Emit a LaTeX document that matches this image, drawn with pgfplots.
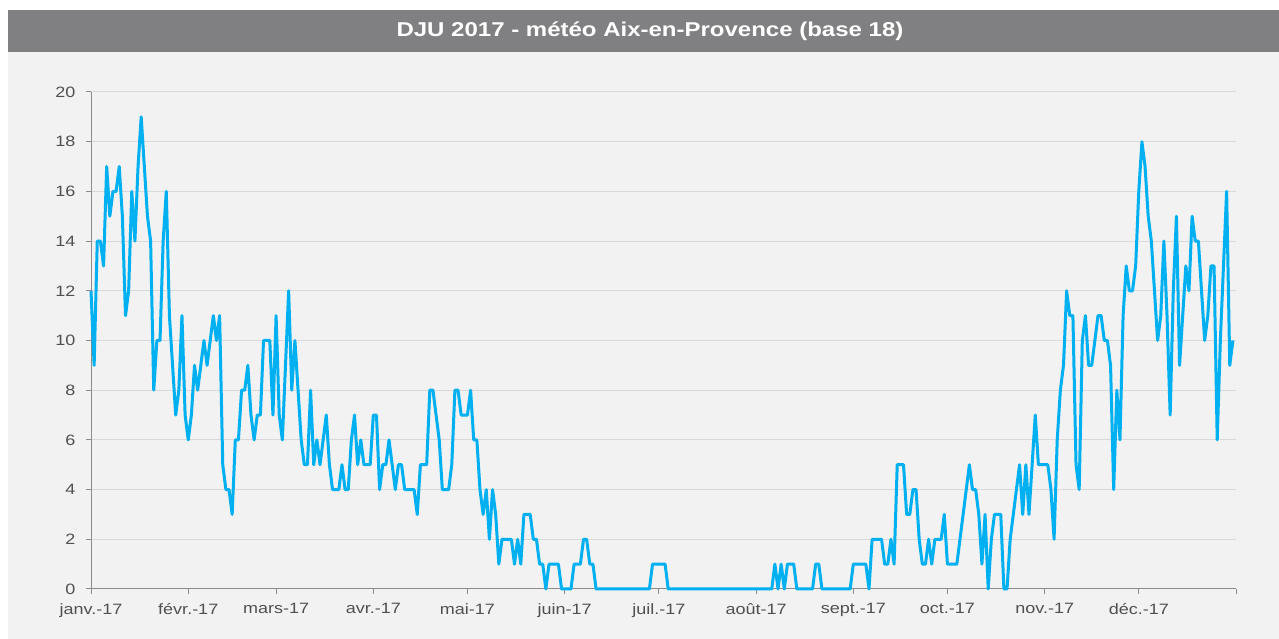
\documentclass[border=0pt]{standalone}
\usepackage{fontspec}
\setmainfont{Liberation Sans}[FakeStretch=1.2]
\usepackage{pgfplots}
\pgfplotsset{compat=1.18}

\definecolor{titlebar}{RGB}{128,128,130}
\definecolor{panel}{RGB}{242,242,242}
\definecolor{gridgray}{RGB}{217,217,217}
\definecolor{axisgray}{RGB}{140,140,140}
\definecolor{labelgray}{RGB}{80,80,80}
\definecolor{dju}{RGB}{0,176,240}

\begin{document}
\begin{tikzpicture}
% background, panel and title bar (1pt = 1px of the reference)
\fill[white] (0pt,0pt) rectangle (1279pt,639pt);
\fill[panel] (8pt,0pt) rectangle (1279pt,587pt);
\fill[titlebar] (8pt,587pt) rectangle (1279pt,629pt);
\node[text=white, font=\fontsize{20}{24}\selectfont\bfseries] at (650pt,608pt)
  {DJU 2017 - météo Aix-en-Provence (base 18)};

\begin{axis}[
    at={(91pt,50pt)}, anchor=south west,
    scale only axis,
    width=1145pt, height=497pt,
    xmin=0, xmax=365, ymin=0, ymax=20,
    axis x line*=bottom, axis y line*=left,
    axis line style={axisgray, line width=1pt},
    xtick={0,31,59,90,120,151,181,212,243,273,304,334,365},
    xticklabels={janv.-17,févr.-17,mars-17,avr.-17,mai-17,juin-17,juil.-17,août-17,sept.-17,oct.-17,nov.-17,déc.-17,},
    ytick={0,2,...,20},
    tick align=outside,
    major tick length=5pt,
    tick style={axisgray, line width=1pt},
    ymajorgrids,
    grid style={gridgray, line width=1pt},
    tick label style={font=\fontsize{15}{18}\selectfont, text=labelgray},
    yticklabel style={xshift=-7pt},
    xticklabel style={yshift=-6pt},
    /pgf/number format/assume math mode=true,
    clip=false,
]
% daily DJU values, day 0 = 1 Jan 2017
\addplot[dju, line width=3pt, line join=round, mark=none] coordinates {
(0,12) (1,9) (2,14) (3,14) (4,13) (5,17) (6,15) (7,16) (8,16) (9,17)
(10,15) (11,11) (12,12) (13,16) (14,14) (15,17) (16,19) (17,17) (18,15) (19,14)
(20,8) (21,10) (22,10) (23,14) (24,16) (25,11) (26,9) (27,7) (28,8) (29,11)
(30,7) (31,6) (32,7) (33,9) (34,8) (35,9) (36,10) (37,9) (38,10) (39,11)
(40,10) (41,11) (42,5) (43,4) (44,4) (45,3) (46,6) (47,6) (48,8) (49,8)
(50,9) (51,7) (52,6) (53,7) (54,7) (55,10) (56,10) (57,10) (58,7) (59,11)
(60,7) (61,6) (62,9) (63,12) (64,8) (65,10) (66,8) (67,6) (68,5) (69,5)
(70,8) (71,5) (72,6) (73,5) (74,6) (75,7) (76,5) (77,4) (78,4) (79,4)
(80,5) (81,4) (82,4) (83,6) (84,7) (85,5) (86,6) (87,5) (88,5) (89,5)
(90,7) (91,7) (92,4) (93,5) (94,5) (95,6) (96,5) (97,4) (98,5) (99,5)
(100,4) (101,4) (102,4) (103,4) (104,3) (105,5) (106,5) (107,5) (108,8) (109,8)
(110,7) (111,6) (112,4) (113,4) (114,4) (115,5) (116,8) (117,8) (118,7) (119,7)
(120,7) (121,8) (122,6) (123,6) (124,4) (125,3) (126,4) (127,2) (128,4) (129,3)
(130,1) (131,2) (132,2) (133,2) (134,2) (135,1) (136,2) (137,1) (138,3) (139,3)
(140,3) (141,2) (142,2) (143,1) (144,1) (145,0) (146,1) (147,1) (148,1) (149,1)
(150,0) (151,0) (152,0) (153,0) (154,1) (155,1) (156,1) (157,2) (158,2) (159,1)
(160,1) (161,0) (162,0) (163,0) (164,0) (165,0) (166,0) (167,0) (168,0) (169,0)
(170,0) (171,0) (172,0) (173,0) (174,0) (175,0) (176,0) (177,0) (178,0) (179,1)
(180,1) (181,1) (182,1) (183,1) (184,0) (185,0) (186,0) (187,0) (188,0) (189,0)
(190,0) (191,0) (192,0) (193,0) (194,0) (195,0) (196,0) (197,0) (198,0) (199,0)
(200,0) (201,0) (202,0) (203,0) (204,0) (205,0) (206,0) (207,0) (208,0) (209,0)
(210,0) (211,0) (212,0) (213,0) (214,0) (215,0) (216,0) (217,0) (218,1) (219,0)
(220,1) (221,0) (222,1) (223,1) (224,1) (225,0) (226,0) (227,0) (228,0) (229,0)
(230,0) (231,1) (232,1) (233,0) (234,0) (235,0) (236,0) (237,0) (238,0) (239,0)
(240,0) (241,0) (242,0) (243,1) (244,1) (245,1) (246,1) (247,1) (248,0) (249,2)
(250,2) (251,2) (252,2) (253,1) (254,1) (255,2) (256,1) (257,5) (258,5) (259,5)
(260,3) (261,3) (262,4) (263,4) (264,2) (265,1) (266,1) (267,2) (268,1) (269,2)
(270,2) (271,2) (272,3) (273,1) (274,1) (275,1) (276,1) (277,2) (278,3) (279,4)
(280,5) (281,4) (282,4) (283,3) (284,1) (285,3) (286,0) (287,2) (288,3) (289,3)
(290,3) (291,0) (292,0) (293,2) (294,3) (295,4) (296,5) (297,3) (298,5) (299,3)
(300,5) (301,7) (302,5) (303,5) (304,5) (305,5) (306,4) (307,2) (308,6) (309,8)
(310,9) (311,12) (312,11) (313,11) (314,5) (315,4) (316,10) (317,11) (318,9) (319,9)
(320,10) (321,11) (322,11) (323,10) (324,10) (325,9) (326,4) (327,8) (328,6) (329,11)
(330,13) (331,12) (332,12) (333,13) (334,16) (335,18) (336,17) (337,15) (338,14) (339,12)
(340,10) (341,11) (342,14) (343,11) (344,7) (345,12) (346,15) (347,9) (348,11) (349,13)
(350,12) (351,15) (352,14) (353,14) (354,12) (355,10) (356,11) (357,13) (358,13) (359,6)
(360,10) (361,13) (362,16) (363,9) (364,10)
};
\end{axis}
\end{tikzpicture}
\end{document}
